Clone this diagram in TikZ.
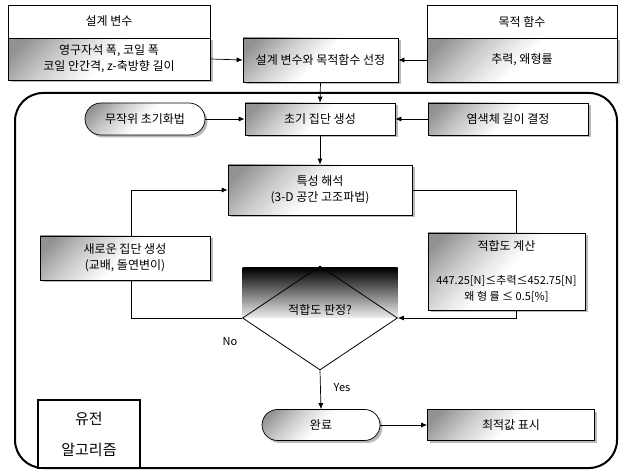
\documentclass[tikz,border=0pt]{standalone}
\usepackage{fontspec}
\setmainfont{Noto Sans CJK KR}
\usetikzlibrary{arrows.meta,shapes.geometric,shapes.misc,shadows}
\pgfdeclareverticalshading{cornerfade}{100bp}{color(0bp)=(white); color(50bp)=(white); color(66bp)=(gray!40); color(80bp)=(gray!85); color(100bp)=(gray!90)}
\begin{document}
\begin{tikzpicture}[x=1pt,y=-1pt,
  txt/.style={font=\fontsize{12}{16}\selectfont},
  plainbox/.style={draw=black, line width=0.7pt, fill=white, inner sep=0pt, align=center, txt},
  gbox/.style={draw=black, line width=0.7pt, shading=cornerfade, shading angle=45,
     drop shadow={shadow xshift=2.5pt, shadow yshift=-2.5pt, fill=gray!55, opacity=1},
     inner sep=0pt, align=center, txt},
  gpill/.style={gbox, rounded rectangle},
  arr/.style={-{Latex[length=6pt,width=5pt]}, line width=0.7pt},
  link/.style={line width=0.7pt}
]
\useasboundingbox (0,0) rectangle (622,473);

% big frame
\node[draw=black, line width=2pt, rounded corners=28pt, minimum width=602pt, minimum height=375pt, inner sep=0pt] (gaframe) at (316,280.5) {};

% top row
\node[gbox, minimum width=202pt, minimum height=42pt] (varL) at (109,59) {영구자석 폭, 코일 폭\\코일 안간격, z-축방향 길이};
\node[plainbox, minimum width=202pt, minimum height=33pt] (hdrL) at (109,21.5) {설계 변수};
\node[gbox, minimum width=155pt, minimum height=44pt] (sel) at (320.5,60) {설계 변수와 목적함수 선정};
\node[gbox, minimum width=190pt, minimum height=44pt] (objR) at (522,60) {추력, 왜형률};
\node[plainbox, minimum width=190pt, minimum height=33pt] (hdrR) at (522,21.5) {목적 함수};

% row 1 inside frame
\node[gpill, minimum width=120pt, minimum height=32pt] (rand) at (145,119) {무작위 초기화법};
\node[gbox, minimum width=150pt, minimum height=32pt] (init) at (320,119) {초기 집단 생성};
\node[gbox, minimum width=160pt, minimum height=32pt] (chrom) at (508,119) {염색체 길이 결정};

% analysis
\node[gbox, minimum width=184pt, minimum height=50pt] (anal) at (320,190) {특성 해석\\(3-D 공간 고조파법)};
\node[gbox, minimum width=170pt, minimum height=44pt] (newpop) at (125,258) {새로운 집단 생성\\(교배, 돌연변이)};
\node[gbox, minimum width=157pt, minimum height=77pt] (fit) at (506.5,271.5) {적합도 계산\\[18pt]{\fontsize{11}{16}\selectfont 447.25[N]≤추력≤452.75[N]}\\{\fontsize{11}{16}\selectfont 왜 형 률 ≤ 0.5[\%]}};

% decision
\shade[top color=black, middle color=gray!55, bottom color=gray!12] (242.5,268) rectangle (397.5,318);
\node[draw=black, line width=0.8pt, diamond, minimum width=155pt, minimum height=104pt, inner sep=0pt] (dia) at (320,318) {};
\node[txt] (diatxt) at (320,310) {적합도 판정?};

% end
\node[gpill, minimum width=118pt, minimum height=31pt] (done) at (321,425) {완료};
\node[gbox, minimum width=167pt, minimum height=31pt] (best) at (511,425) {최적값 표시};

% GA label
\node[draw=black, line width=2pt, fill=white, minimum width=102pt, minimum height=68pt, inner sep=0pt, align=center, font=\fontsize{15}{31}\selectfont] (galabel) at (89,434) {유전\\알고리즘};

% labels
\node[font=\fontsize{11}{12}\selectfont] (nolab) at (230,342) {No};
\node[font=\fontsize{11}{12}\selectfont] (yeslab) at (342,388) {Yes};

% connectors
\draw[arr] (varL.east) -- (sel.west);
\draw[arr] (objR.west) -- (sel.east);
\draw[arr] (sel.south) -- (init.north);
\draw[arr] (rand.east) -- (init.west);
\draw[arr] (chrom.west) -- (init.east);
\draw[arr] (init.south) -- (anal.north);
\draw[link] (anal.east) -| ([xshift=10pt]fit.north);
\draw[arr] ([xshift=10pt]fit.south) |- (dia.east);
\draw[link] (dia.west) -| ([xshift=6pt]newpop.south);
\draw[arr] ([xshift=6pt]newpop.north) |- (anal.west);
\draw[arr] (dia.south) -- (done.north);
\draw[arr] (done.east) -- (best.west);
\end{tikzpicture}
\end{document}
